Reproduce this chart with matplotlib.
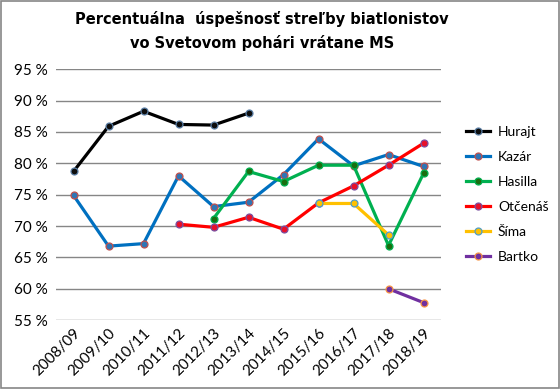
# Import libraries
import numpy as np
import matplotlib
matplotlib.use("Agg")
import matplotlib.pyplot as plt

# Seasons on the x axis
seasons = [
    "2008/09", "2009/10", "2010/11", "2011/12", "2012/13", "2013/14",
    "2014/15", "2015/16", "2016/17", "2017/18", "2018/19",
]

# Shooting accuracy in % (None = no data for that season)
hurajt = [78.7, 85.9, 88.3, 86.2, 86.1, 88.0, None, None, None, None, None]
kazar = [74.9, 66.8, 67.2, 78.0, 73.1, 73.8, 78.2, 83.9, 79.6, 81.4, 79.5]
hasilla = [None, None, None, None, 71.2, 78.7, 77.1, 79.7, 79.7, 66.9, 78.4]
otcenas = [None, None, None, 70.3, 69.8, 71.4, 69.5, 73.7, 76.4, 79.7, 83.2]
sima = [None, None, None, None, None, None, None, 73.6, 73.6, 68.6, None]
bartko = [None, None, None, None, None, None, None, None, None, 60.0, 57.8]

names = ["Hurajt", "Kazár", "Hasilla", "Otčenáš", "Šíma", "Bartko"]
series = [hurajt, kazar, hasilla, otcenas, sima, bartko]

# line colour, marker fill, marker edge
styles = [
    ("#000000", "#0d0d0d", "#5b7fa6"),
    ("#0070C0", "#2f75b5", "#c0504d"),
    ("#00B050", "#1a6e10", "#00B050"),
    ("#FF0000", "#e8102a", "#7a4fa0"),
    ("#FFC000", "#FFC000", "#4f9ec9"),
    ("#7030A0", "#7030A0", "#f79646"),
]

fig = plt.figure(figsize=(5.6, 3.89), dpi=100)
ax = fig.add_axes([0.1, 0.177, 0.6875, 0.645])

x = np.arange(len(seasons))
for name, vals, (lc, mf, me) in zip(names, series, styles):
    y = np.array([np.nan if v is None else v for v in vals], dtype=float)
    ax.plot(
        x, y,
        color=lc, linewidth=2.3,
        marker="o", markersize=5, markerfacecolor=mf,
        markeredgecolor=me, markeredgewidth=0.9,
        label=name,
    )

# Axes styling
ax.set_xlim(-0.5, len(seasons) - 0.5)
ax.set_ylim(55, 95)
ax.set_yticks(range(55, 96, 5))
ax.set_yticklabels([f"{v} %" for v in range(55, 96, 5)],
                   fontsize=11, family="Lato")
ax.set_xticks(x)
ax.set_xticklabels(seasons, rotation=45, ha="right",
                   rotation_mode="anchor", fontsize=11, family="Lato")
ax.tick_params(axis="both", length=0, pad=6)
ax.tick_params(axis="x", pad=4)
ax.grid(axis="y", color="#868686", linewidth=1)
ax.set_axisbelow(True)
for s in ax.spines.values():
    s.set_visible(False)

# Title
fig.text(0.468, 0.921,
         "Percentuálna  úspešnosť streľby biatlonistov\nvo Svetovom pohári vrátane MS",
         ha="center", va="center", fontsize=10.5, fontweight="bold",
         linespacing=1.6)

# Legend
fig.legend(
    loc="upper left", bbox_to_anchor=(0.81, 0.708),
    frameon=False, prop={"family": "Lato", "size": 10},
    handlelength=1.75, labelspacing=0.93, handletextpad=0.55,
)

# Outer border
fig.patches.append(plt.Rectangle((0.002, 0.002), 0.996, 0.996,
                                 transform=fig.transFigure, fill=False,
                                 edgecolor="#868686", linewidth=1.2))

fig.savefig("out.png", dpi=100)
